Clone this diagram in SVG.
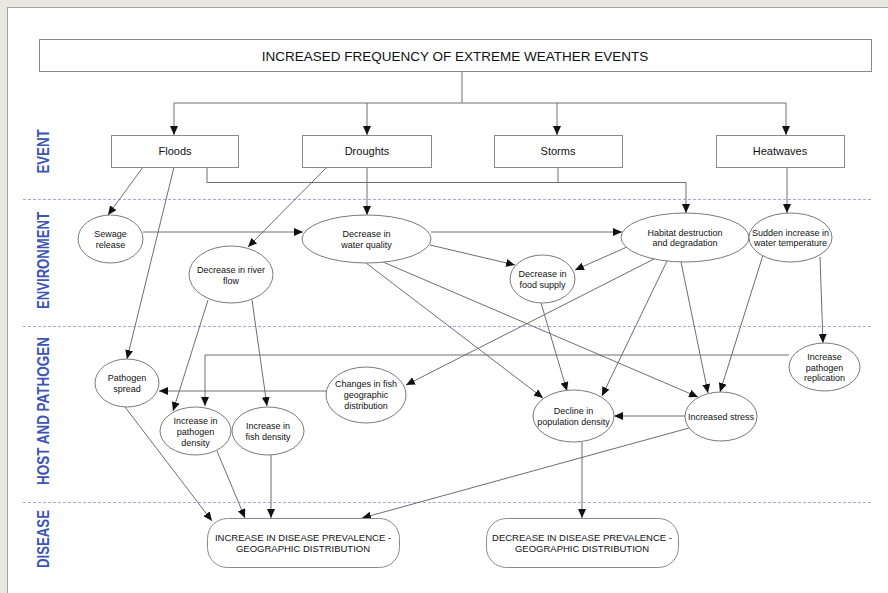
<svg xmlns="http://www.w3.org/2000/svg" width="888" height="593" viewBox="0 0 888 593">
<style>
  .t{font-family:"Liberation Sans",Arial,sans-serif;fill:#111;text-anchor:middle}
  .e{font-size:9px}
  .b{font-size:11px}
  .d{font-size:9.5px}
  .lane{font-family:"Liberation Sans",Arial,sans-serif;font-weight:bold;font-size:16px;fill:#3a55b4;text-anchor:middle}
  .box{fill:#fff;stroke:#8a8a8a;stroke-width:1}
  .ell{fill:#fff;stroke:#7a7a7a;stroke-width:1}
  .sep{stroke:#a8a8e0;stroke-width:1;stroke-dasharray:3,2}
  .c{fill:none;stroke:#6e6e6e;stroke-width:1}
  .a{marker-end:url(#ah)}
</style>
<defs>
  <marker id="ah" markerWidth="10" markerHeight="8" refX="9" refY="4" orient="auto" markerUnits="userSpaceOnUse">
    <path d="M0,0 L9,4 L0,8 z" fill="#111"/>
  </marker>
</defs>
<rect x="0" y="0" width="888" height="593" fill="#fff"/>
<rect x="0" y="0" width="888" height="7" fill="#e9e8e0"/>
<rect x="0" y="0" width="7" height="593" fill="#e9e8e0"/>
<line x1="7" y1="7.5" x2="888" y2="7.5" stroke="#a3a398"/>
<line x1="7.5" y1="7" x2="7.5" y2="593" stroke="#a3a398"/>

<g id="separators">
  <line class="sep" x1="23" y1="199.5" x2="871" y2="199.5"/>
  <line class="sep" x1="23" y1="326.5" x2="871" y2="326.5"/>
  <line class="sep" x1="23" y1="502.5" x2="871" y2="502.5"/>
</g>

<g id="lanes">
  <text class="lane" transform="translate(48.5,151.5) rotate(-90)" textLength="44" lengthAdjust="spacingAndGlyphs">EVENT</text>
  <text class="lane" transform="translate(48.5,260.5) rotate(-90)" textLength="97" lengthAdjust="spacingAndGlyphs">ENVIRONMENT</text>
  <text class="lane" transform="translate(48.5,411) rotate(-90)" textLength="148" lengthAdjust="spacingAndGlyphs">HOST AND PATHOGEN</text>
  <text class="lane" transform="translate(48.5,539) rotate(-90)" textLength="58" lengthAdjust="spacingAndGlyphs">DISEASE</text>
</g>

<g id="connectors">
  <polyline class="c" points="462,72 462,103"/>
  <line class="c" x1="174" y1="103" x2="786" y2="103"/>
  <line class="c a" x1="174" y1="103" x2="174" y2="135"/>
  <line class="c a" x1="367" y1="103" x2="367" y2="135"/>
  <line class="c a" x1="557" y1="103" x2="557" y2="135"/>
  <line class="c a" x1="786" y1="103" x2="786" y2="135"/>

  <line class="c a" x1="143" y1="167" x2="108" y2="215"/>
  <line class="c a" x1="174" y1="167" x2="127" y2="359"/>
  <polyline class="c a" points="207,167 207,182.5 686,182.5 686,213"/>
  <line class="c" x1="558" y1="167" x2="558" y2="182.5"/>
  <line class="c a" x1="327" y1="167" x2="248" y2="247"/>
  <line class="c a" x1="367" y1="167" x2="367" y2="215"/>
  <line class="c a" x1="787" y1="167" x2="787" y2="213"/>

  <line class="c a" x1="143" y1="232" x2="303" y2="232"/>
  <line class="c a" x1="431" y1="232" x2="622" y2="232"/>
  <line class="c a" x1="430" y1="245" x2="515" y2="265"/>
  <line class="c a" x1="627" y1="247" x2="575" y2="270"/>
  <line class="c a" x1="654" y1="259" x2="406" y2="385"/>
  <line class="c a" x1="667" y1="261" x2="602" y2="396"/>
  <line class="c a" x1="681" y1="262" x2="708" y2="393"/>
  <line class="c a" x1="763" y1="255" x2="720" y2="392"/>
  <line class="c a" x1="820" y1="257" x2="823" y2="343"/>
  <line class="c a" x1="366" y1="263" x2="543" y2="398"/>
  <line class="c a" x1="383" y1="262" x2="698" y2="397"/>
  <line class="c a" x1="541" y1="303" x2="567" y2="391"/>
  <line class="c a" x1="208" y1="300" x2="173" y2="411"/>
  <line class="c a" x1="252" y1="300" x2="267" y2="406"/>

  <polyline class="c a" points="789,355 205,355 205,406"/>
  <line class="c a" x1="326" y1="391" x2="159" y2="391"/>
  <line class="c a" x1="685" y1="416" x2="614" y2="416"/>

  <line class="c a" x1="582" y1="442" x2="582" y2="518"/>
  <line class="c a" x1="689" y1="428" x2="362" y2="518"/>
  <line class="c a" x1="125" y1="407" x2="212" y2="521"/>
  <line class="c a" x1="217" y1="451" x2="245" y2="518"/>
  <line class="c a" x1="271" y1="455" x2="271" y2="518"/>
</g>

<g id="n-top">
  <rect class="box" x="39.5" y="39.5" width="832" height="32"/>
  <text class="t" x="455" y="60.5" style="font-size:13.5px">INCREASED FREQUENCY OF EXTREME WEATHER EVENTS</text>
</g>
<g id="n-floods">
  <rect class="box" x="111.5" y="135.5" width="127" height="32"/>
  <text class="t b" x="175" y="155">Floods</text>
</g>
<g id="n-droughts">
  <rect class="box" x="302.5" y="135.5" width="129" height="32"/>
  <text class="t b" x="367" y="155">Droughts</text>
</g>
<g id="n-storms">
  <rect class="box" x="494.5" y="135.5" width="128" height="32"/>
  <text class="t b" x="558" y="155">Storms</text>
</g>
<g id="n-heatwaves">
  <rect class="box" x="716.5" y="135.5" width="128" height="32"/>
  <text class="t b" x="780" y="155">Heatwaves</text>
</g>

<g id="n-sewage">
  <ellipse class="ell" cx="110.5" cy="239" rx="32.5" ry="24"/>
  <text class="t e" x="110.5" y="236.5">Sewage</text>
  <text class="t e" x="110.5" y="247.5">release</text>
</g>
<g id="n-river">
  <ellipse class="ell" cx="231" cy="274.5" rx="42" ry="28.5"/>
  <text class="t e" x="231" y="272.5">Decrease in river</text>
  <text class="t e" x="231" y="283.5">flow</text>
</g>
<g id="n-water">
  <ellipse class="ell" cx="366.5" cy="239" rx="64.5" ry="24"/>
  <text class="t e" x="366.5" y="236.5">Decrease in</text>
  <text class="t e" x="366.5" y="247.5">water quality</text>
</g>
<g id="n-food">
  <ellipse class="ell" cx="542.5" cy="279" rx="32.5" ry="24"/>
  <text class="t e" x="542.5" y="276.5">Decrease in</text>
  <text class="t e" x="542.5" y="287.5">food supply</text>
</g>
<g id="n-habitat">
  <ellipse class="ell" cx="685" cy="237.5" rx="64" ry="24.5"/>
  <text class="t e" x="685" y="235.5">Habitat destruction</text>
  <text class="t e" x="685" y="246">and degradation</text>
</g>
<g id="n-sudden">
  <ellipse class="ell" cx="790.5" cy="237.5" rx="41.5" ry="24.5"/>
  <text class="t e" x="790.5" y="235.5">Sudden increase in</text>
  <text class="t e" x="790.5" y="246">water temperature</text>
</g>

<g id="n-spread">
  <ellipse class="ell" cx="127" cy="383" rx="32" ry="24"/>
  <text class="t e" x="127" y="380.5">Pathogen</text>
  <text class="t e" x="127" y="391.5">spread</text>
</g>
<g id="n-pathdens">
  <ellipse class="ell" cx="195.5" cy="431" rx="35.5" ry="24"/>
  <text class="t e" x="195.5" y="423.5">Increase in</text>
  <text class="t e" x="195.5" y="434.5">pathogen</text>
  <text class="t e" x="195.5" y="445.5">density</text>
</g>
<g id="n-fishdens">
  <ellipse class="ell" cx="268" cy="431" rx="36" ry="24"/>
  <text class="t e" x="268" y="428.5">Increase in</text>
  <text class="t e" x="268" y="439.5">fish density</text>
</g>
<g id="n-changes">
  <ellipse class="ell" cx="366" cy="395" rx="40" ry="28"/>
  <text class="t e" x="366" y="386.5">Changes in fish</text>
  <text class="t e" x="366" y="397.5">geographic</text>
  <text class="t e" x="366" y="408.5">distribution</text>
</g>
<g id="n-decline">
  <ellipse class="ell" cx="573.5" cy="416" rx="40.5" ry="26"/>
  <text class="t e" x="573.5" y="414">Decline in</text>
  <text class="t e" x="573.5" y="425">population density</text>
</g>
<g id="n-stress">
  <ellipse class="ell" cx="721" cy="416.5" rx="36" ry="24.5"/>
  <text class="t e" x="721" y="419.5">Increased stress</text>
</g>
<g id="n-replication">
  <ellipse class="ell" cx="824.5" cy="367" rx="35.5" ry="24"/>
  <text class="t e" x="824.5" y="359.5">Increase</text>
  <text class="t e" x="824.5" y="370.5">pathogen</text>
  <text class="t e" x="824.5" y="381">replication</text>
</g>

<g id="n-increase-disease">
  <rect class="box" x="207.5" y="518.5" width="192" height="49" rx="20" ry="20"/>
  <text class="t d" x="303" y="540.5">INCREASE IN DISEASE PREVALENCE -</text>
  <text class="t d" x="303" y="551.5">GEOGRAPHIC DISTRIBUTION</text>
</g>
<g id="n-decrease-disease">
  <rect class="box" x="486.5" y="518.5" width="192" height="49" rx="20" ry="20"/>
  <text class="t d" x="582" y="540.5">DECREASE IN DISEASE PREVALENCE -</text>
  <text class="t d" x="582" y="551.5">GEOGRAPHIC DISTRIBUTION</text>
</g>
</svg>
